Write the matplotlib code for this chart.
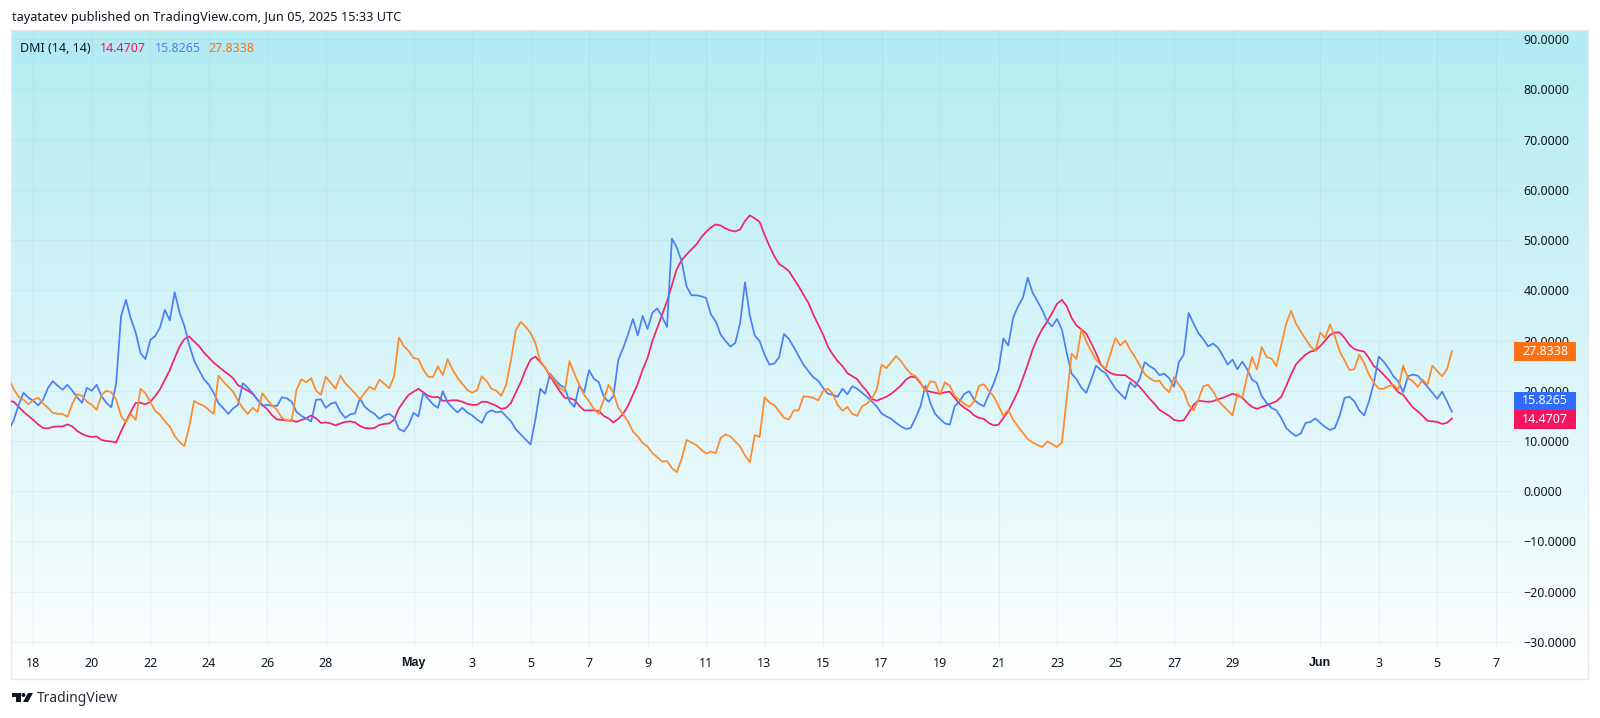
import numpy as np
import pandas as pd
import matplotlib
matplotlib.use("Agg")
import matplotlib.pyplot as plt
import matplotlib.dates as mdates
import matplotlib.transforms as mtransforms
from matplotlib.patches import Rectangle, Polygon, Circle

plt.rcParams['font.family'] = ['Noto Sans', 'DejaVu Sans']

red_values = [
 18.0,17.8,16.8,15.8,15.0,14.2,13.3,12.6,12.5,12.8,12.9,12.9,13.3,12.9,12.0,11.4,11.0,10.8,10.9,10.2,
 10.0,9.9,9.7,11.9,13.9,15.8,17.6,17.6,17.3,17.8,18.9,20.3,22.2,24.1,26.5,28.8,30.3,30.8,29.8,28.9,
 27.6,26.6,25.6,24.8,24.0,23.3,22.5,21.1,20.6,20.0,19.4,18.2,17.2,16.3,15.1,14.3,14.2,14.1,14.1,13.8,
 14.2,14.5,15.1,14.5,13.6,13.7,13.5,13.1,13.5,13.8,13.9,13.7,13.0,12.6,12.5,12.6,13.2,13.4,13.5,14.2,
 16.5,17.9,19.2,19.8,20.4,19.7,19.0,18.7,18.8,18.0,18.0,18.1,18.1,17.8,17.4,17.2,17.2,17.8,17.8,17.4,
 17.0,16.4,16.6,17.6,19.7,21.7,24.2,26.2,26.8,25.7,24.6,22.9,21.4,19.9,18.6,18.5,18.2,17.0,16.1,16.1,
 16.1,16.0,15.0,14.5,13.7,14.4,15.4,17.0,19.2,21.4,24.2,26.5,29.9,32.5,35.2,37.8,41.0,44.2,46.0,47.1,
 48.1,49.1,50.5,51.6,52.5,53.1,52.9,52.3,51.9,51.7,52.1,53.8,54.9,54.3,53.6,51.1,48.8,46.8,45.2,44.6,
 43.8,42.3,40.8,39.1,37.5,35.2,33.2,31.2,28.8,27.2,25.9,24.9,23.5,22.9,22.3,21.0,19.9,18.4,18.0,18.4,
 18.8,19.4,20.2,21.1,22.2,22.8,22.7,21.5,20.1,19.8,19.6,19.4,19.7,19.8,18.6,17.4,16.6,16.0,15.1,14.6,
 14.4,13.6,13.1,13.25,14.6,15.9,17.9,19.9,22.5,25.2,28.2,30.5,32.3,33.8,35.5,37.3,38.1,36.8,34.5,33.0,
 32.2,31.4,29.5,27.5,25.2,24.2,23.5,23.2,23.1,23.1,22.4,21.7,20.7,19.6,18.4,17.4,16.2,15.6,15.0,14.2,
 14.0,14.1,15.6,17.2,18.0,17.9,17.8,17.9,18.3,18.6,19.0,19.4,19.1,18.6,17.6,16.8,16.4,16.8,17.1,17.5,
 17.9,18.8,20.9,23.2,25.2,26.3,27.2,27.8,28.0,28.9,30.0,31.1,31.6,31.6,30.5,29.1,28.3,28.0,27.8,26.5,
 24.9,24.2,23.2,22.2,20.9,19.7,19.2,17.9,16.7,15.9,15.0,14.0,13.9,13.8,13.4,13.6,14.4707]

blue_values = [
 12.2,14.2,17.2,19.6,18.6,18.0,17.1,18.2,20.5,21.9,21.0,20.2,21.2,20.0,18.7,17.6,20.6,20.0,21.2,18.9,
 17.6,16.7,21.5,34.8,38.1,34.4,31.6,27.5,26.3,30.1,30.9,32.6,36.1,34.0,39.6,35.6,32.9,29.1,26.0,24.1,
 22.3,21.2,19.6,17.5,16.5,15.4,16.5,17.2,21.5,20.6,19.5,18.2,17.0,17.2,17.0,17.0,18.7,18.5,17.8,15.8,
 15.0,14.5,13.9,18.2,18.3,16.6,17.4,17.7,15.8,14.6,15.3,15.5,18.5,16.8,16.0,15.4,14.4,15.1,15.4,14.7,
 12.4,11.9,13.2,15.6,14.9,19.6,18.4,17.3,16.6,19.9,17.7,16.6,15.7,16.6,15.7,15.1,14.3,13.6,15.6,16.1,
 15.7,15.9,14.9,13.9,12.3,11.3,10.3,9.3,14.3,20.4,19.4,23.4,22.2,21.2,20.6,17.9,16.8,21.0,19.7,24.1,
 22.4,21.7,18.9,17.8,18.9,26.1,28.5,31.2,34.3,31.0,34.9,32.3,35.5,36.4,34.7,32.7,50.3,48.5,45.8,40.8,
 39.0,39.0,38.8,38.5,35.2,33.8,31.2,29.9,28.8,29.5,33.5,41.6,34.9,31.0,29.9,27.2,25.2,25.4,26.7,31.3,
 30.3,28.7,26.9,25.2,23.9,22.7,22.0,20.6,19.4,19.2,18.8,20.4,19.3,20.9,20.4,19.6,18.8,17.9,16.9,15.5,
 14.9,14.4,13.6,12.9,12.4,12.6,14.6,16.9,21.0,17.6,15.4,14.4,13.5,13.25,16.9,17.9,19.4,19.9,18.2,17.4,
 16.9,19.2,21.4,24.2,30.4,29.0,34.5,36.8,38.5,42.5,39.5,37.8,36.0,33.8,32.8,34.3,32.2,27.5,23.4,22.3,
 20.6,19.6,22.2,25.0,24.1,23.5,21.9,20.4,19.4,18.4,21.7,20.7,22.5,25.7,24.9,24.3,23.1,23.4,22.5,20.8,
 25.7,27.2,35.5,33.4,31.5,30.3,28.8,29.4,28.6,27.0,25.2,26.2,24.3,25.8,24.3,22.2,21.6,18.9,17.6,16.6,
 16.1,14.6,12.6,11.7,11.0,11.5,13.6,13.8,14.5,13.6,12.8,12.2,12.6,15.1,18.6,18.8,17.9,16.1,15.1,17.9,
 21.6,26.8,25.8,24.5,22.9,21.9,19.7,22.9,23.2,23.0,21.9,20.8,19.6,18.4,19.8,17.9,15.8265]

orange_values = [
 22.2,20.3,18.8,18.2,17.3,18.2,18.6,17.5,16.6,15.6,15.4,15.4,14.8,17.4,19.3,19.0,17.8,17.2,16.2,19.2,
 20.0,19.7,18.3,15.0,13.7,15.4,14.2,20.4,19.5,17.8,16.0,15.2,13.9,12.9,11.0,9.8,9.0,12.9,18.0,17.4,
 17.0,16.2,15.4,23.0,21.8,20.8,19.8,18.0,16.5,15.4,16.6,15.8,19.5,18.2,17.1,16.2,14.6,14.1,13.9,20.2,
 22.3,21.7,22.5,20.0,19.2,22.8,21.6,20.4,23.0,21.5,20.5,19.5,18.3,19.6,20.8,20.2,22.2,21.4,20.5,22.8,
 30.6,28.9,27.9,26.5,26.3,24.2,22.8,22.7,24.9,23.1,26.3,24.2,22.6,21.4,20.2,19.6,20.1,22.9,21.9,20.4,
 20.0,19.0,21.2,26.2,32.1,33.7,32.7,31.5,29.5,25.9,24.6,23.2,21.9,20.6,19.9,25.9,23.4,21.2,19.2,17.9,
 16.4,15.4,18.2,21.2,19.6,16.6,15.3,13.9,11.9,10.9,9.6,8.9,7.6,6.8,5.9,6.0,4.6,3.8,6.4,10.2,
 9.7,9.2,8.3,7.5,7.9,7.6,10.6,11.3,10.9,9.9,8.9,7.1,5.8,11.2,10.8,18.7,17.7,17.1,15.9,14.6,
 14.3,16.1,16.1,18.9,18.8,18.6,18.1,19.9,20.4,19.4,17.2,16.0,16.8,15.4,15.0,16.9,17.4,18.4,20.2,25.2,
 24.5,25.7,26.9,25.9,24.5,23.4,22.9,21.7,19.9,21.9,21.7,19.2,21.7,21.0,19.0,18.2,17.4,16.8,17.9,21.0,
 21.3,20.0,18.9,17.0,15.0,16.2,14.2,12.9,11.6,10.4,9.7,9.2,8.8,9.9,9.4,8.8,9.7,18.6,27.4,26.3,
 32.2,29.8,27.9,26.2,25.1,24.4,27.5,30.5,29.0,30.0,28.2,26.7,25.0,23.3,22.5,21.9,22.0,20.6,19.7,22.7,
 21.2,19.9,17.2,16.1,18.2,20.9,21.2,19.9,18.1,17.1,16.1,15.1,19.4,18.6,22.9,26.7,24.2,28.7,26.7,26.4,
 24.9,29.1,33.3,35.9,33.4,31.8,30.3,28.8,28.0,31.6,30.5,33.2,30.8,27.8,26.0,24.1,24.3,27.2,25.5,23.2,
 21.6,20.4,20.4,20.9,21.2,20.2,25.0,22.5,21.9,20.8,22.2,21.2,25.0,23.9,22.9,24.3,27.8338]

price_ticks = [90, 80, 70, 60, 50, 40, 30, 20, 10, 0, -10, -20, -30]
date_ticks = ['2025-04-18','2025-04-20','2025-04-22','2025-04-24','2025-04-26','2025-04-28',
              '2025-05-01','2025-05-03','2025-05-05','2025-05-07','2025-05-09','2025-05-11',
              '2025-05-13','2025-05-15','2025-05-17','2025-05-19','2025-05-21','2025-05-23',
              '2025-05-25','2025-05-27','2025-05-29','2025-06-01','2025-06-03','2025-06-05','2025-06-07']
date_labels = ['18','20','22','24','26','28','May','3','5','7','9','11','13','15','17','19','21','23',
               '25','27','29','Jun','3','5','7']
legend_title = 'DMI (14, 14)'
start_time = '2025-04-17 04:00'

RED, BLUE, ORANGE = '#F0246A', '#4C7FF5', '#FF8A2B'
TAG_RED, TAG_BLUE, TAG_ORANGE = '#F7135F', '#2F6BFF', '#FF7014'
INK = '#131722'

W, H = 1600, 718
fig = plt.figure(figsize=(W/100, H/100), dpi=100, facecolor='white')
px = mtransforms.Affine2D().scale(1/W, -1/H).translate(0, 1) + fig.transFigure

def box(l, t, r, b):
    return [l/W, 1-b/H, (r-l)/W, (b-t)/H]

# gradient panel behind the plot, price scale and time scale
bg = fig.add_axes(box(11, 30, 1588, 679), zorder=0)
top = np.array([178, 235, 242])/255
bot = np.array([255, 255, 255])/255
t = np.linspace(0, 1, 400)[:, None, None]
bg.imshow(top[None, None, :]*(1-t) + bot[None, None, :]*t, aspect='auto', extent=[0, 1, 0, 1])
bg.set_xticks([]); bg.set_yticks([])
for s in bg.spines.values():
    s.set_color('#e6eaee'); s.set_linewidth(1)

ax = fig.add_axes(box(11, 30, 1513, 646), zorder=1)
ax.patch.set_alpha(0)
for s in ax.spines.values():
    s.set_visible(False)

times = pd.date_range(start_time, periods=len(red_values), freq='4h')
ax.plot(times, red_values, color=RED, lw=1.25, zorder=3, solid_joinstyle='round')
ax.plot(times, blue_values, color=BLUE, lw=1.25, zorder=4, solid_joinstyle='round')
ax.plot(times, orange_values, color=ORANGE, lw=1.25, zorder=5, solid_joinstyle='round')

d0 = mdates.date2num(pd.Timestamp('2025-04-18'))
ax.set_xlim(d0 - 0.762, d0 + 50.59)
ax.set_ylim(-30.8, 91.8)

ax.yaxis.tick_right()
ax.set_yticks(price_ticks)
ax.set_yticklabels([f'{v:.4f}'.replace('-', '\u2212') for v in price_ticks])
ax.tick_params(axis='y', length=0, pad=7.6, labelsize=9, labelcolor=INK)

ax.set_xticks(pd.to_datetime(date_ticks))
ax.set_xticklabels(date_labels)
ax.tick_params(axis='x', length=0, pad=8, labelsize=9, labelcolor=INK)
for lab in ax.get_xticklabels():
    if lab.get_text() in ('May', 'Jun'):
        lab.set_family('Liberation Sans')
        lab.set_fontweight('bold')

ax.grid(True, color='#9fb4bd', alpha=0.15, lw=0.8, zorder=1)
ax.set_axisbelow(True)

# header, legend, footer
fig.text(12/W, 1-17/H, 'tayatatev published on TradingView.com, Jun 05, 2025 15:33 UTC',
         fontsize=9.2, color=INK, va='center')
for x, s, c in [(20, legend_title, INK), (100, f'{red_values[-1]:.4f}', TAG_RED),
                (155, f'{blue_values[-1]:.4f}', BLUE), (208, f'{orange_values[-1]:.4f}', TAG_ORANGE)]:
    fig.text(x/W, 1-48/H, s, fontsize=9, color=c, va='center', zorder=10)

# last-value tags on the price scale
for (t0, b0, c, v) in [(342, 361, TAG_ORANGE, orange_values[-1]),
                       (392, 410, TAG_BLUE, blue_values[-1]),
                       (410, 429, TAG_RED, red_values[-1])]:
    fig.add_artist(Rectangle((1514, t0), 62, b0-t0, transform=px, facecolor=c, edgecolor='none', zorder=10))
    fig.text(1545/W, 1-((t0+b0)/2)/H, f'{v:.4f}', color='white', fontsize=9,
             ha='center', va='center', zorder=11)

# TradingView mark
fig.add_artist(Polygon([(12, 693), (21, 693), (21, 702), (16, 702), (16, 697), (12, 697)],
                       transform=px, facecolor=INK, edgecolor='none', zorder=10))
fig.add_artist(Circle((23.5, 695), 2, transform=px, facecolor=INK, edgecolor='none', zorder=10))
fig.add_artist(Polygon([(28, 693), (33, 693), (28, 702), (23, 702)],
                       transform=px, facecolor=INK, edgecolor='none', zorder=10))
fig.text(37/W, 1-699/H, 'TradingView', fontsize=10, color='#2a2e39', va='center')

fig.savefig('out.png', dpi=100)
